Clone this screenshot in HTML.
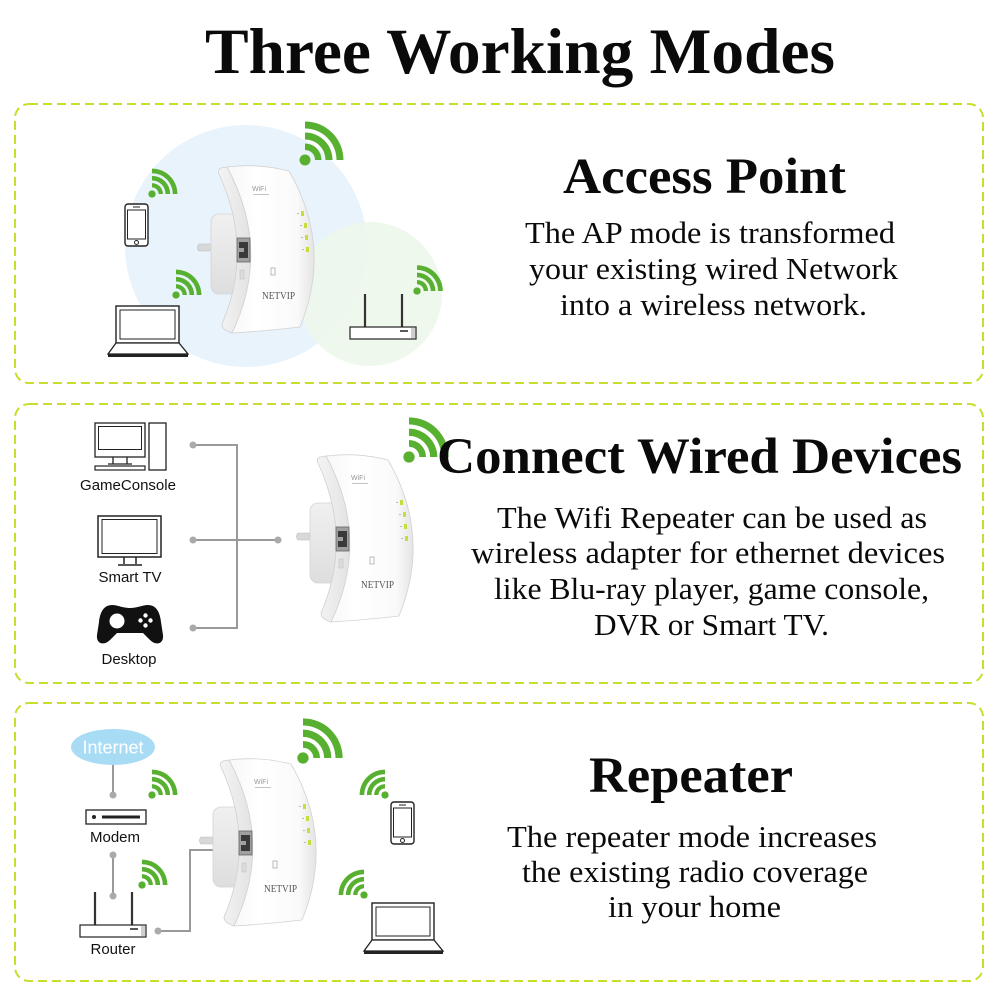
<!DOCTYPE html>
<html><head><meta charset="utf-8"><style>html,body{margin:0;padding:0;background:#fff}svg{display:block}</style></head>
<body>
<svg width="1000" height="1000" viewBox="0 0 1000 1000" xmlns="http://www.w3.org/2000/svg">
<defs>
<g id="wifi" fill="#58b031">
 <circle cx="0" cy="0" r="5.5"/>
 <path d="M0,-16.5 A16.5,16.5 0 0 1 16.5,0 L10,0 A10,10 0 0 0 0,-10 Z"/>
 <path d="M0,-27.5 A27.5,27.5 0 0 1 27.5,0 L20.5,0 A20.5,20.5 0 0 0 0,-20.5 Z"/>
 <path d="M0,-38.5 A38.5,38.5 0 0 1 38.5,0 L31.5,0 A31.5,31.5 0 0 0 0,-31.5 Z"/>
</g>
<linearGradient id="gFront" x1="0" y1="0" x2="1" y2="0">
 <stop offset="0" stop-color="#f7f7f7"/><stop offset="0.35" stop-color="#ffffff"/><stop offset="0.8" stop-color="#fafafa"/><stop offset="1" stop-color="#e4e4e4"/>
</linearGradient>
<linearGradient id="gSide" x1="0" y1="0" x2="1" y2="0">
 <stop offset="0" stop-color="#f4f4f4"/><stop offset="1" stop-color="#e2e2e2"/>
</linearGradient>
<linearGradient id="gPlug" x1="0" y1="0" x2="0" y2="1">
 <stop offset="0" stop-color="#f0f0f0"/><stop offset="1" stop-color="#dedede"/>
</linearGradient>
</defs>

<!-- Title -->
<text x="205" y="73" font-family="Liberation Serif, serif" font-weight="bold" font-size="65" fill="#0a0a0a" textLength="630" lengthAdjust="spacingAndGlyphs">Three Working Modes</text>

<!-- Dashed boxes -->
<g fill="none" stroke="#c9dd2e" stroke-width="2" stroke-dasharray="9 5">
 <rect x="15" y="104" width="968" height="279" rx="14"/>
 <rect x="15" y="404" width="968" height="279" rx="14"/>
 <rect x="15" y="703" width="968" height="278" rx="14"/>
</g>

<!-- ============ BOX 1 ============ -->
<circle cx="246" cy="246" r="121" fill="#e8f3fc"/>
<circle cx="370" cy="294" r="72" fill="#edf7ea" opacity="0.88"/>

<use href="#wifi" transform="translate(305,160)"/>
<use href="#wifi" transform="translate(152,194) scale(0.66)"/>
<use href="#wifi" transform="translate(176,295) scale(0.66)"/>
<use href="#wifi" transform="translate(417,291) scale(0.67)"/>

<!-- phone -->
<g>
 <rect x="125" y="204" width="23" height="42" rx="3" fill="#fff" stroke="#222" stroke-width="1.4"/>
 <rect x="127.5" y="210" width="18" height="29" fill="none" stroke="#222" stroke-width="1"/>
 <line x1="133" y1="207" x2="140" y2="207" stroke="#222" stroke-width="1"/>
 <circle cx="136.5" cy="242.5" r="2" fill="none" stroke="#222" stroke-width="1"/>
</g>
<!-- laptop -->
<g>
 <rect x="116" y="306" width="63" height="37" fill="#fff" stroke="#222" stroke-width="1.4"/>
 <rect x="120" y="310" width="55" height="29" fill="none" stroke="#222" stroke-width="1"/>
 <path d="M116,343 L108,354 L188,354 L179,343 Z" fill="#fff" stroke="#222" stroke-width="1.3"/>
 <rect x="108" y="354" width="80" height="3" fill="#222"/>
</g>
<!-- router -->
<g>
 <line x1="365" y1="294" x2="365" y2="327" stroke="#333" stroke-width="2.2"/>
 <line x1="402" y1="294" x2="402" y2="327" stroke="#333" stroke-width="2.2"/>
 <rect x="350" y="327" width="66" height="12" fill="#fff" stroke="#222" stroke-width="1.2"/>
 <rect x="411" y="327.6" width="4.5" height="10.8" fill="#cfcfcf"/>
 <line x1="400" y1="331" x2="408" y2="331" stroke="#222" stroke-width="1.5"/>
</g>

<!-- device box1 -->
<g>
 <path d="M199,244 h14 v7 h-14 q-3,-3.5 0,-7z" fill="#d8d8d8" stroke="#bbb" stroke-width="0.6"/>
 <rect x="211" y="214" width="42" height="80" rx="8" fill="url(#gPlug)" stroke="#d4d4d4" stroke-width="0.8"/>
 <path d="M227,167 L221,168 Q217,170 219,174 Q254,250 222,324 Q222,330 232,333 Q272,250 227,167 Z" fill="url(#gSide)" stroke="#d0d0d0" stroke-width="0.8"/>
 <path d="M227,167 Q258,163 289,171 Q333,247 300,327 Q266,331 232,333 Q272,250 227,167 Z" fill="url(#gFront)" stroke="#d3d3d3" stroke-width="0.8"/>
 <rect x="237" y="238" width="13" height="24" fill="#a0a0a0" stroke="#666" stroke-width="0.8"/>
 <rect x="239" y="242" width="9" height="16" fill="#3a3a3a"/>
 <rect x="239" y="248" width="5" height="4" fill="#a0a0a0"/>
 <rect x="240" y="270" width="4" height="9" fill="#dcdcdc" stroke="#bbb" stroke-width="0.5"/>
 <rect x="271" y="268" width="4" height="7" fill="none" stroke="#aaa" stroke-width="0.8"/>
 <text x="252" y="191" font-family="Liberation Sans, sans-serif" font-size="7" fill="#999">WiFi</text>
 <rect x="253" y="194" width="16" height="1" fill="#c4c4c4"/>
 <g fill="#c8dc3a"><rect x="301" y="211" width="3" height="5"/><rect x="304" y="223" width="3" height="5"/><rect x="305" y="235" width="3" height="5"/><rect x="306" y="247" width="3" height="5"/></g>
 <g fill="#bbb"><rect x="297" y="213" width="2" height="1"/><rect x="300" y="225" width="2" height="1"/><rect x="301" y="237" width="2" height="1"/><rect x="302" y="249" width="2" height="1"/></g>
 <text x="262" y="299" font-family="Liberation Serif, serif" font-size="11" fill="#555" textLength="33" lengthAdjust="spacingAndGlyphs">NETVIP</text>
</g>

<!-- text box1 -->
<g font-family="Liberation Serif, serif" fill="#0a0a0a">
 <text x="563" y="193" font-weight="bold" font-size="51" textLength="283" lengthAdjust="spacingAndGlyphs">Access Point</text>
 <text x="525" y="243" font-size="31" textLength="370" lengthAdjust="spacingAndGlyphs">The AP mode is transformed</text>
 <text x="529" y="279" font-size="31" textLength="369" lengthAdjust="spacingAndGlyphs">your existing wired Network</text>
 <text x="560" y="315" font-size="31" textLength="307" lengthAdjust="spacingAndGlyphs">into a wireless network.</text>
</g>

<!-- ============ BOX 2 ============ -->
<!-- desktop icon -->
<g stroke="#222" fill="#fff">
 <rect x="95" y="423" width="50" height="34" stroke-width="1.3"/>
 <rect x="98.5" y="426.5" width="43" height="23" fill="none" stroke-width="1"/>
 <path d="M113,457 V464 M127,457 V464 M108,464 H132" fill="none" stroke-width="1.3"/>
 <rect x="95" y="466" width="50" height="4" stroke-width="1.2"/>
 <rect x="149" y="423" width="17" height="47" stroke-width="1.3"/>
</g>
<!-- TV -->
<g stroke="#222" fill="#fff">
 <rect x="98" y="516" width="63" height="41" stroke-width="1.5"/>
 <rect x="102" y="519.5" width="55" height="34" fill="none" stroke-width="1"/>
 <path d="M124,557 V564 M136,557 V564 M118,565 H142" fill="none" stroke-width="1.5"/>
</g>
<!-- gamepad -->
<path d="M112,605 C118,605 122,608 130,608 C138,608 142,605 148,605 C156,605 160,612 161,622 L163,635 C164,644 156,646 150,640 L143,633 H117 L110,640 C104,646 96,644 97,635 L99,622 C100,612 104,605 112,605 Z" fill="#111"/>
<circle cx="117" cy="621" r="7.5" fill="#fff"/>
<g fill="#fff"><circle cx="145.5" cy="615.5" r="2.2"/><circle cx="145.5" cy="625.5" r="2.2"/><circle cx="140.5" cy="620.5" r="2.2"/><circle cx="150.5" cy="620.5" r="2.2"/></g>

<g font-family="Liberation Sans, sans-serif" font-size="15" fill="#111" text-anchor="middle">
 <text x="128" y="490">GameConsole</text>
 <text x="130" y="582">Smart TV</text>
 <text x="129" y="664">Desktop</text>
</g>

<!-- connectors box2 -->
<path d="M193,445 H237 V628 H193 M193,540 H278" fill="none" stroke="#999" stroke-width="2"/>
<g fill="#aaa"><circle cx="193" cy="445" r="3.5"/><circle cx="193" cy="540" r="3.5"/><circle cx="193" cy="628" r="3.5"/><circle cx="278" cy="540" r="3.5"/></g>

<!-- device box2 -->
<g transform="translate(99,289)">
 <path d="M199,244 h14 v7 h-14 q-3,-3.5 0,-7z" fill="#d8d8d8" stroke="#bbb" stroke-width="0.6"/>
 <rect x="211" y="214" width="42" height="80" rx="8" fill="url(#gPlug)" stroke="#d4d4d4" stroke-width="0.8"/>
 <path d="M227,167 L221,168 Q217,170 219,174 Q254,250 222,324 Q222,330 232,333 Q272,250 227,167 Z" fill="url(#gSide)" stroke="#d0d0d0" stroke-width="0.8"/>
 <path d="M227,167 Q258,163 289,171 Q333,247 300,327 Q266,331 232,333 Q272,250 227,167 Z" fill="url(#gFront)" stroke="#d3d3d3" stroke-width="0.8"/>
 <rect x="237" y="238" width="13" height="24" fill="#a0a0a0" stroke="#666" stroke-width="0.8"/>
 <rect x="239" y="242" width="9" height="16" fill="#3a3a3a"/>
 <rect x="239" y="248" width="5" height="4" fill="#a0a0a0"/>
 <rect x="240" y="270" width="4" height="9" fill="#dcdcdc" stroke="#bbb" stroke-width="0.5"/>
 <rect x="271" y="268" width="4" height="7" fill="none" stroke="#aaa" stroke-width="0.8"/>
 <text x="252" y="191" font-family="Liberation Sans, sans-serif" font-size="7" fill="#999">WiFi</text>
 <rect x="253" y="194" width="16" height="1" fill="#c4c4c4"/>
 <g fill="#c8dc3a"><rect x="301" y="211" width="3" height="5"/><rect x="304" y="223" width="3" height="5"/><rect x="305" y="235" width="3" height="5"/><rect x="306" y="247" width="3" height="5"/></g>
 <g fill="#bbb"><rect x="297" y="213" width="2" height="1"/><rect x="300" y="225" width="2" height="1"/><rect x="301" y="237" width="2" height="1"/><rect x="302" y="249" width="2" height="1"/></g>
 <text x="262" y="299" font-family="Liberation Serif, serif" font-size="11" fill="#555" textLength="33" lengthAdjust="spacingAndGlyphs">NETVIP</text>
</g>

<use href="#wifi" transform="translate(409,457) scale(1.03)"/>

<!-- text box2 -->
<g font-family="Liberation Serif, serif" fill="#0a0a0a">
 <text x="437" y="473" font-weight="bold" font-size="51" textLength="525" lengthAdjust="spacingAndGlyphs">Connect Wired Devices</text>
 <text x="497" y="528" font-size="31" textLength="430" lengthAdjust="spacingAndGlyphs">The Wifi Repeater can be used as</text>
 <text x="471" y="563" font-size="31" textLength="474" lengthAdjust="spacingAndGlyphs">wireless adapter for ethernet devices</text>
 <text x="494" y="599" font-size="31" textLength="435" lengthAdjust="spacingAndGlyphs">like Blu-ray player, game console,</text>
 <text x="594" y="635" font-size="31" textLength="235" lengthAdjust="spacingAndGlyphs">DVR or Smart TV.</text>
</g>

<!-- ============ BOX 3 ============ -->
<ellipse cx="113" cy="747" rx="42" ry="18" fill="#a8dcf5"/>
<text x="113" y="753.5" font-family="Liberation Sans, sans-serif" font-size="18" fill="#fff" text-anchor="middle">Internet</text>

<path d="M113,765 V795 M113,855 V896 M158,931 H190 V850 H229" fill="none" stroke="#999" stroke-width="2"/>
<g fill="#aaa"><circle cx="113" cy="795" r="3.5"/><circle cx="113" cy="855" r="3.5"/><circle cx="113" cy="896" r="3.5"/><circle cx="158" cy="931" r="3.5"/><circle cx="229" cy="850" r="3.5"/></g>

<!-- modem -->
<rect x="86" y="810" width="60" height="14" fill="#fff" stroke="#222" stroke-width="1.3"/>
<circle cx="94" cy="817" r="2" fill="#222"/>
<line x1="102" y1="817" x2="140" y2="817" stroke="#222" stroke-width="3"/>

<!-- router box3 -->
<g transform="translate(-270,598)">
 <line x1="365" y1="294" x2="365" y2="327" stroke="#333" stroke-width="2.2"/>
 <line x1="402" y1="294" x2="402" y2="327" stroke="#333" stroke-width="2.2"/>
 <rect x="350" y="327" width="66" height="12" fill="#fff" stroke="#222" stroke-width="1.2"/>
 <rect x="411" y="327.6" width="4.5" height="10.8" fill="#cfcfcf"/>
 <line x1="400" y1="331" x2="408" y2="331" stroke="#222" stroke-width="1.5"/>
</g>

<g font-family="Liberation Sans, sans-serif" font-size="15" fill="#111" text-anchor="middle">
 <text x="115" y="842">Modem</text>
 <text x="113" y="954">Router</text>
</g>

<use href="#wifi" transform="translate(152,795) scale(0.66)"/>
<use href="#wifi" transform="translate(142,885) scale(0.66)"/>
<use href="#wifi" transform="translate(303,758) scale(1.03)"/>
<use href="#wifi" transform="translate(385,795) scale(-0.66,0.66)"/>
<use href="#wifi" transform="translate(364,895) scale(-0.66,0.66)"/>

<!-- phone box3 -->
<g transform="translate(266,598)">
 <rect x="125" y="204" width="23" height="42" rx="3" fill="#fff" stroke="#222" stroke-width="1.4"/>
 <rect x="127.5" y="210" width="18" height="29" fill="none" stroke="#222" stroke-width="1"/>
 <line x1="133" y1="207" x2="140" y2="207" stroke="#222" stroke-width="1"/>
 <circle cx="136.5" cy="242.5" r="2" fill="none" stroke="#222" stroke-width="1"/>
</g>
<!-- laptop box3 -->
<g transform="translate(256,597)">
 <rect x="116" y="306" width="62" height="37" fill="#fff" stroke="#222" stroke-width="1.4"/>
 <rect x="120" y="310" width="54" height="29" fill="none" stroke="#222" stroke-width="1"/>
 <path d="M116,343 L108,354 L187,354 L178,343 Z" fill="#fff" stroke="#222" stroke-width="1.3"/>
 <rect x="108" y="354" width="79" height="3" fill="#222"/>
</g>

<!-- device box3 -->
<g transform="translate(2,593)">
 <path d="M199,244 h14 v7 h-14 q-3,-3.5 0,-7z" fill="#d8d8d8" stroke="#bbb" stroke-width="0.6"/>
 <rect x="211" y="214" width="42" height="80" rx="8" fill="url(#gPlug)" stroke="#d4d4d4" stroke-width="0.8"/>
 <path d="M227,167 L221,168 Q217,170 219,174 Q254,250 222,324 Q222,330 232,333 Q272,250 227,167 Z" fill="url(#gSide)" stroke="#d0d0d0" stroke-width="0.8"/>
 <path d="M227,167 Q258,163 289,171 Q333,247 300,327 Q266,331 232,333 Q272,250 227,167 Z" fill="url(#gFront)" stroke="#d3d3d3" stroke-width="0.8"/>
 <rect x="237" y="238" width="13" height="24" fill="#a0a0a0" stroke="#666" stroke-width="0.8"/>
 <rect x="239" y="242" width="9" height="16" fill="#3a3a3a"/>
 <rect x="239" y="248" width="5" height="4" fill="#a0a0a0"/>
 <rect x="240" y="270" width="4" height="9" fill="#dcdcdc" stroke="#bbb" stroke-width="0.5"/>
 <rect x="271" y="268" width="4" height="7" fill="none" stroke="#aaa" stroke-width="0.8"/>
 <text x="252" y="191" font-family="Liberation Sans, sans-serif" font-size="7" fill="#999">WiFi</text>
 <rect x="253" y="194" width="16" height="1" fill="#c4c4c4"/>
 <g fill="#c8dc3a"><rect x="301" y="211" width="3" height="5"/><rect x="304" y="223" width="3" height="5"/><rect x="305" y="235" width="3" height="5"/><rect x="306" y="247" width="3" height="5"/></g>
 <g fill="#bbb"><rect x="297" y="213" width="2" height="1"/><rect x="300" y="225" width="2" height="1"/><rect x="301" y="237" width="2" height="1"/><rect x="302" y="249" width="2" height="1"/></g>
 <text x="262" y="299" font-family="Liberation Serif, serif" font-size="11" fill="#555" textLength="33" lengthAdjust="spacingAndGlyphs">NETVIP</text>
</g>

<!-- text box3 -->
<g font-family="Liberation Serif, serif" fill="#0a0a0a">
 <text x="589" y="792" font-weight="bold" font-size="51" textLength="204" lengthAdjust="spacingAndGlyphs">Repeater</text>
 <text x="507" y="847" font-size="31" textLength="370" lengthAdjust="spacingAndGlyphs">The repeater mode increases</text>
 <text x="522" y="882" font-size="31" textLength="346" lengthAdjust="spacingAndGlyphs">the existing radio coverage</text>
 <text x="608" y="917" font-size="31" textLength="173" lengthAdjust="spacingAndGlyphs">in your home</text>
</g>
</svg>
</body></html>
